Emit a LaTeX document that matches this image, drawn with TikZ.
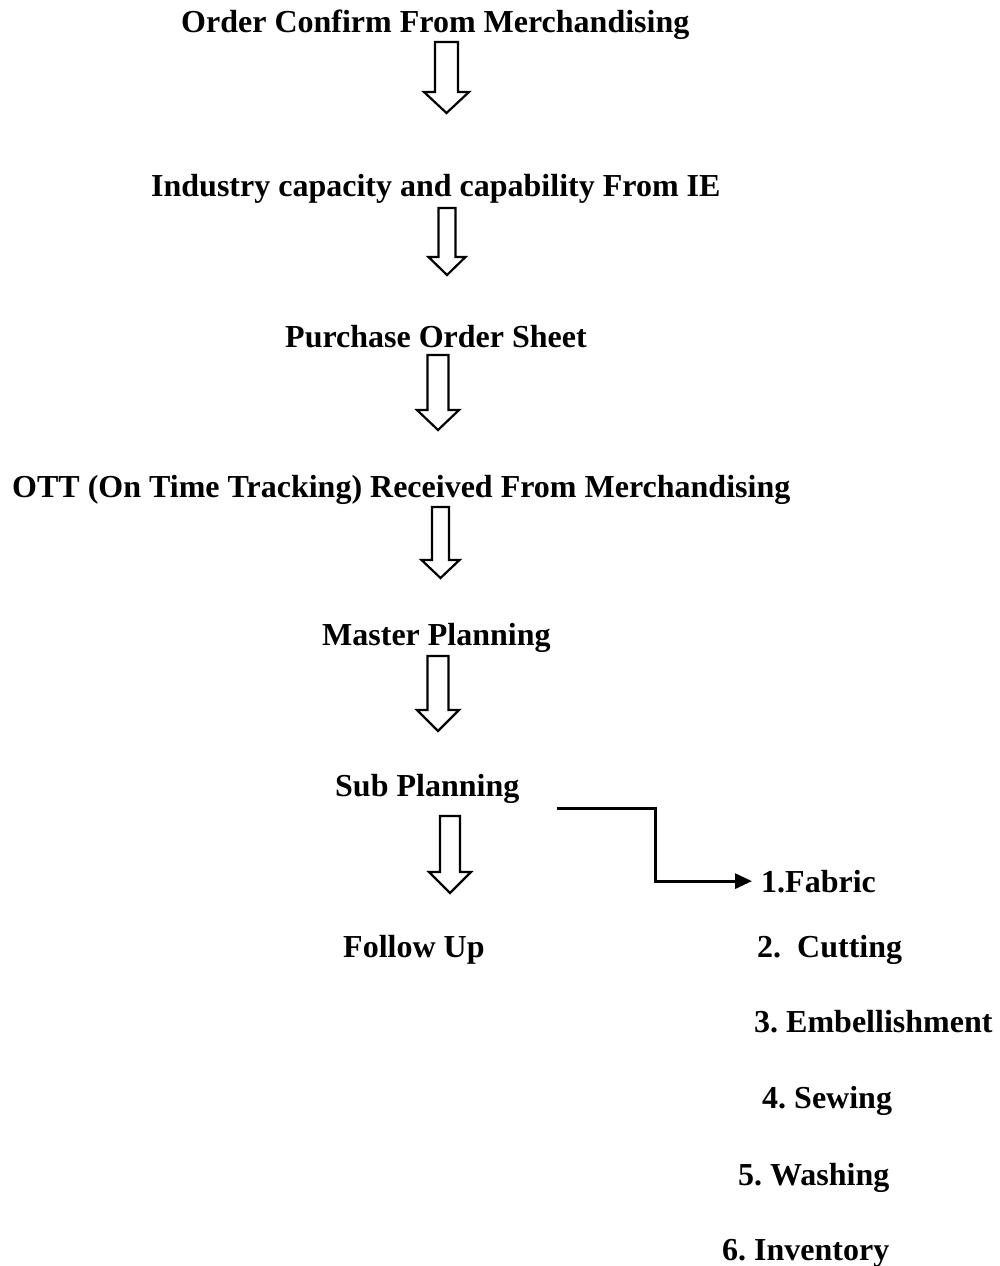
\documentclass[tikz,border=0pt]{standalone}
\usepackage{fontspec}
\setmainfont{Liberation Serif}
\usetikzlibrary{arrows.meta,calc}

\tikzset{
  label/.style={inner sep=0pt, anchor=base west, font=\bfseries\fontsize{32}{38}\selectfont\frenchspacing},
  blockarrow/.style={draw=black, line width=2.2pt, fill=white, line join=miter},
  conn/.style={draw=black, line width=3pt, -{Triangle[length=17pt,width=15pt]}},
}

% block arrow: centre x, top y, shaft half width, head half width, neck y, tip y
\newcommand{\downblock}[6]{%
  \draw[blockarrow] (#1-#3,#2) -- (#1+#3,#2) -- (#1+#3,#5) -- (#1+#4,#5)
    -- (#1,#6) -- (#1-#4,#5) -- (#1-#3,#5) -- cycle;}

\begin{document}
\begin{tikzpicture}[x=1pt,y=-1pt]
\useasboundingbox (0,0) rectangle (999,1266);

% main flow
\node[label] (order)    at (181,32)  {Order Confirm From Merchandising};
\node[label] (industry) at (151,196) {Industry capacity and capability From IE};
\node[label] (purchase) at (285,347) {Purchase Order Sheet};
\node[label] (ott)      at (12,497)  {OTT (On Time Tracking) Received From Merchandising};
\node[label] (master)   at (322,645) {Master Planning};
\node[label] (sub)      at (335,796) {Sub Planning};
\node[label] (follow)   at (343,957) {Follow Up};

% sub planning areas
\node[label] (fabric)   at (761,892)  {1.Fabric};
\node[label] (cutting)  at (757,957)  {2.\ \ Cutting};
\node[label] (embel)    at (754,1032) {3. Embellishment};
\node[label] (sewing)   at (762,1108) {4. Sewing};
\node[label] (washing)  at (738,1185) {5. Washing};
\node[label] (invent)   at (722,1260) {6. Inventory};

% hollow down arrows between the steps
\downblock{446.5}{42}{11.5}{22.5}{92}{113}
\downblock{447}{208}{8.5}{18.5}{257}{275}
\downblock{438}{355}{10.5}{21}{410}{430}
\downblock{440.5}{507}{8.5}{19}{560}{578}
\downblock{438}{656}{10.5}{21}{710}{731}
\downblock{450}{816}{10}{21}{872}{893}

% elbow connector from sub planning to the list
\coordinate (subout) at ($(sub.base east)+(37,12)$);
\coordinate (bend) at (655,0);
\draw[conn] (subout) -- (subout -| bend) |- ([xshift=-9pt]fabric.west);
\end{tikzpicture}
\end{document}
